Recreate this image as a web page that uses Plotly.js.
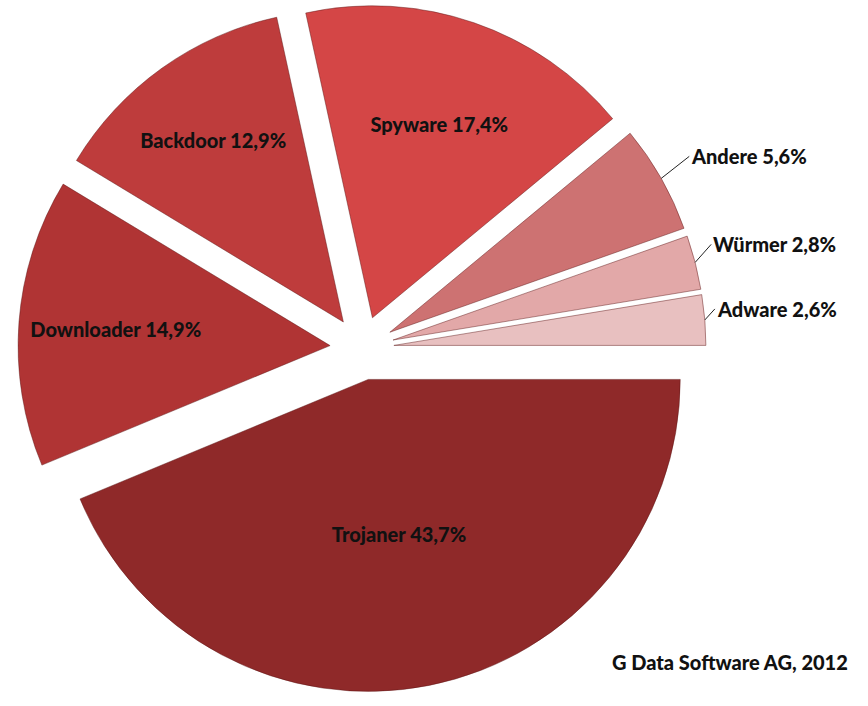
<!DOCTYPE html>
<html>
<head>
<meta charset="utf-8">
<script src="https://cdn.plot.ly/plotly-3.0.1.min.js"></script>
<style>html,body{margin:0;padding:0;background:#fff;}#chart{width:868px;height:706px;}</style>
</head>
<body>
<div id="chart"></div>
<script>
const labels = ["Trojaner", "Downloader", "Backdoor", "Spyware", "Andere", "Würmer", "Adware"];
const values = [43.7, 14.9, 12.9, 17.4, 5.6, 2.8, 2.6];
const colors = ["#8f2929", "#b03434", "#be3c3c", "#d44646", "#cd7272", "#e2a8a8", "#e8c0c0"];
const outsideLabels = ["Andere", "Würmer", "Adware"];
const source = "G Data Software AG, 2012";

const fmt = v => v.toFixed(1).replace('.', ',') + '%';
const texts = labels.map((l, i) => outsideLabels.includes(l) ? '' : l + ' ' + fmt(values[i]));

const W = 868, H = 706;
const pull = 0.1026;
const dom = {x: [0.0207, 0.8134], y: [0.0198, 0.9943]};
const font = {family: 'Lato, "Open Sans", sans-serif', size: 20, color: '#111', weight: 900};

// geometry derived from the pie domain, for leader-line annotations
const cx = (dom.x[0] + dom.x[1]) / 2 * W;
const cyPaper = (dom.y[0] + dom.y[1]) / 2;
const r = Math.min((dom.x[1]-dom.x[0]) * W, (dom.y[1]-dom.y[0]) * H) / (2 * (1 + pull));
const total = values.reduce((a, b) => a + b, 0);
let cum = 0;
const annotations = [];
const offsets = {"Andere": [28, -22], "Würmer": [16, -18], "Adware": [10, -11]};
values.forEach((v, i) => {
  const mid = (cum + v / 2) / total * 2 * Math.PI; // clockwise from east
  cum += v;
  if (!outsideLabels.includes(labels[i])) return;
  const rr = r * (1 + pull);
  const o = offsets[labels[i]];
  annotations.push({
    xref: 'paper', yref: 'paper',
    x: (cx + rr * Math.cos(mid)) / W,
    y: cyPaper - rr * Math.sin(mid) / H,
    text: labels[i] + ' ' + fmt(v),
    showarrow: true, arrowhead: 0, arrowwidth: 1, arrowcolor: '#222',
    ax: o[0], ay: o[1], xanchor: 'left', yanchor: 'middle',
    font: font
  });
});

annotations.push({
  xref: 'paper', yref: 'paper', x: 850 / W, y: 1 - 662 / H,
  xanchor: 'right', yanchor: 'middle', showarrow: false,
  text: source,
  font: font
});

const trace = {
  type: 'pie',
  labels: labels,
  values: values,
  text: texts,
  textinfo: 'text',
  textposition: 'inside',
  insidetextorientation: 'horizontal',
  sort: false,
  direction: 'clockwise',
  rotation: 90,
  pull: labels.map(() => pull),
  marker: {colors: colors, line: {color: 'rgba(90,20,20,0.45)', width: 1}},
  insidetextfont: font,
  domain: dom,
  hoverinfo: 'none'
};

Plotly.newPlot('chart', [trace], {
  width: W, height: H,
  margin: {l: 0, r: 0, t: 0, b: 0},
  showlegend: false,
  paper_bgcolor: '#fff',
  annotations: annotations
}, {displayModeBar: false, staticPlot: true});
</script>
</body>
</html>
